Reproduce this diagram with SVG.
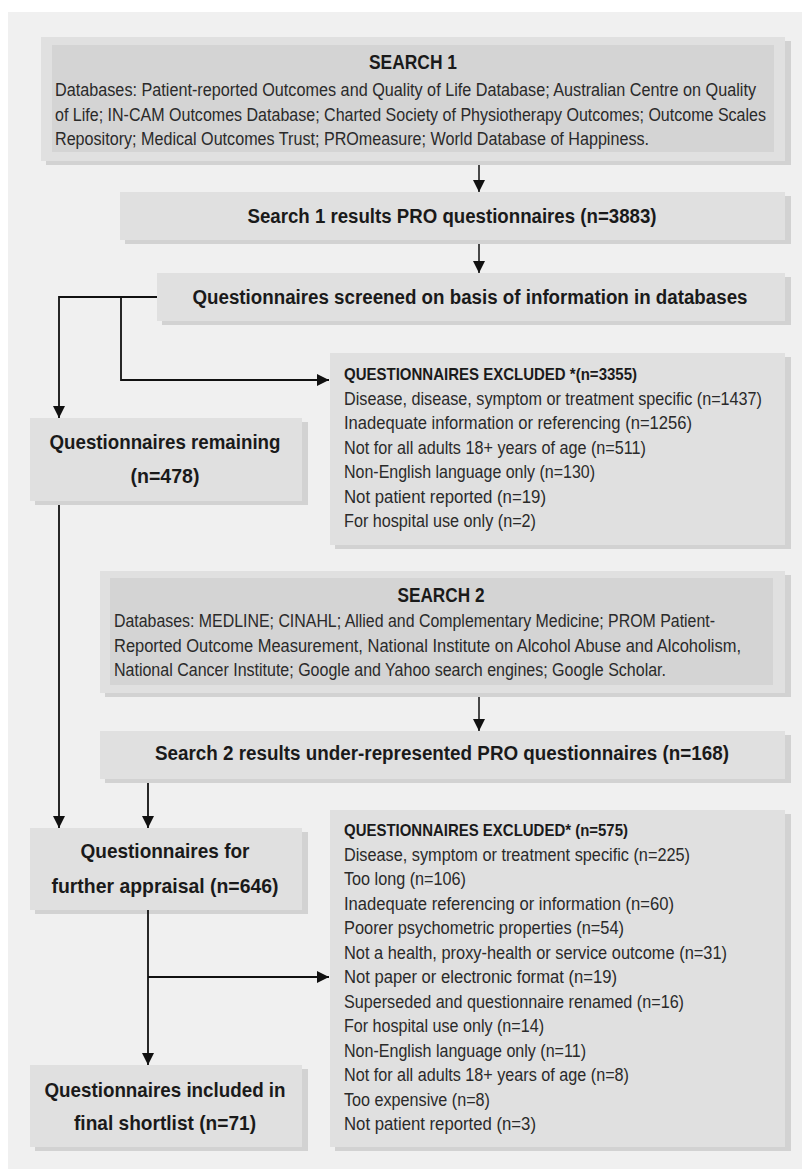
<svg xmlns="http://www.w3.org/2000/svg" width="802" height="1169" viewBox="0 0 802 1169">
<defs>
<style>
.bg{fill:#ffffff}
.panel{fill:#f0f0f0}
.box{fill:#e0e0e0}
.inner{fill:#d4d4d4}
.sh{fill:#d2d2d2}
text{font-family:"Liberation Sans Narrow","Liberation Sans",Arial,sans-serif;fill:#2a2a2a}
.t{font-size:17.5px}
.h{font-size:17px;font-weight:bold;fill:#1a1a1a}
.b{font-size:20px;font-weight:bold;fill:#1a1a1a}
.bl{font-size:21px;font-weight:bold;fill:#1a1a1a}
.c{text-anchor:middle}
.ln{fill:none;stroke:#111;stroke-width:1.8}
.lt{fill:none;stroke:#111;stroke-width:1.5}
</style>
<marker id="ah" markerUnits="userSpaceOnUse" markerWidth="12" markerHeight="12" viewBox="0 0 12 12" refX="12" refY="6" orient="auto">
<path d="M0,0 L12,6 L0,12 z" fill="#111"/>
</marker>
</defs>
<rect class="bg" x="0" y="0" width="802" height="1169"/>
<rect class="panel" x="8" y="12" width="794" height="1157"/>

<g id="search1">
<rect class="sh" x="46" y="41" width="745" height="124"/>
<rect class="box" x="41" y="37" width="744" height="124"/>
<rect class="inner" x="52" y="45" width="722" height="107"/>
<text class="b c" x="413" y="69" textLength="88" lengthAdjust="spacingAndGlyphs">SEARCH 1</text>
<text class="t" x="55" y="96" textLength="701" lengthAdjust="spacingAndGlyphs">Databases: Patient-reported Outcomes and Quality of Life Database; Australian Centre on Quality</text>
<text class="t" x="55" y="120.5" textLength="711" lengthAdjust="spacingAndGlyphs">of Life; IN-CAM Outcomes Database; Charted Society of Physiotherapy Outcomes; Outcome Scales</text>
<text class="t" x="55" y="145" textLength="594" lengthAdjust="spacingAndGlyphs">Repository; Medical Outcomes Trust; PROmeasure; World Database of Happiness.</text>
</g>

<g id="results1">
<rect class="sh" x="125" y="196" width="666" height="48"/>
<rect class="box" x="120" y="192" width="665" height="48"/>
<text class="b c" x="452" y="223" textLength="409" lengthAdjust="spacingAndGlyphs">Search 1 results PRO questionnaires (n=3883)</text>
</g>

<g id="screened">
<rect class="sh" x="162" y="277" width="629" height="48"/>
<rect class="box" x="157" y="273" width="628" height="48"/>
<text class="b c" x="470" y="304" textLength="555" lengthAdjust="spacingAndGlyphs">Questionnaires screened on basis of information in databases</text>
</g>

<g id="excluded1">
<rect class="sh" x="335" y="357" width="456" height="192"/>
<rect class="box" x="330" y="353" width="455" height="192"/>
<text class="h" x="344" y="380" textLength="293" lengthAdjust="spacingAndGlyphs">QUESTIONNAIRES EXCLUDED *(n=3355)</text>
<text class="t" x="344" y="404.5" textLength="418" lengthAdjust="spacingAndGlyphs">Disease, disease, symptom or treatment specific (n=1437)</text>
<text class="t" x="344" y="429" textLength="348" lengthAdjust="spacingAndGlyphs">Inadequate information or referencing (n=1256)</text>
<text class="t" x="344" y="453.5" textLength="302" lengthAdjust="spacingAndGlyphs">Not for all adults 18+ years of age (n=511)</text>
<text class="t" x="344" y="478" textLength="251" lengthAdjust="spacingAndGlyphs">Non-English language only (n=130)</text>
<text class="t" x="344" y="502.5" textLength="202" lengthAdjust="spacingAndGlyphs">Not patient reported (n=19)</text>
<text class="t" x="344" y="527" textLength="192" lengthAdjust="spacingAndGlyphs">For hospital use only (n=2)</text>
</g>

<g id="remaining">
<rect class="sh" x="35" y="422" width="273" height="83"/>
<rect class="box" x="30" y="418" width="272" height="83"/>
<text class="bl c" x="165" y="449" textLength="231" lengthAdjust="spacingAndGlyphs">Questionnaires remaining</text>
<text class="bl c" x="165" y="483" textLength="69" lengthAdjust="spacingAndGlyphs">(n=478)</text>
</g>

<g id="search2">
<rect class="sh" x="105" y="575" width="686" height="122"/>
<rect class="box" x="100" y="571" width="685" height="122"/>
<rect class="inner" x="110" y="578" width="663" height="107"/>
<text class="b c" x="441" y="602" textLength="87" lengthAdjust="spacingAndGlyphs">SEARCH 2</text>
<text class="t" x="114" y="627" textLength="601" lengthAdjust="spacingAndGlyphs">Databases: MEDLINE; CINAHL; Allied and Complementary Medicine; PROM Patient-</text>
<text class="t" x="114" y="651.5" textLength="627" lengthAdjust="spacingAndGlyphs">Reported Outcome Measurement, National Institute on Alcohol Abuse and Alcoholism,</text>
<text class="t" x="114" y="676" textLength="552" lengthAdjust="spacingAndGlyphs">National Cancer Institute; Google and Yahoo search engines; Google Scholar.</text>
</g>

<g id="results2">
<rect class="sh" x="105" y="735" width="686" height="48"/>
<rect class="box" x="100" y="731" width="685" height="48"/>
<text class="b c" x="442" y="760" textLength="574" lengthAdjust="spacingAndGlyphs">Search 2 results under-represented PRO questionnaires (n=168)</text>
</g>

<g id="further">
<rect class="sh" x="35" y="832" width="273" height="82"/>
<rect class="box" x="30" y="828" width="272" height="82"/>
<text class="bl c" x="165" y="858" textLength="169" lengthAdjust="spacingAndGlyphs">Questionnaires for</text>
<text class="bl c" x="165" y="893" textLength="227" lengthAdjust="spacingAndGlyphs">further appraisal (n=646)</text>
</g>

<g id="excluded2">
<rect class="sh" x="335" y="814" width="456" height="337"/>
<rect class="box" x="330" y="810" width="455" height="337"/>
<text class="h" x="344" y="836" textLength="284" lengthAdjust="spacingAndGlyphs">QUESTIONNAIRES EXCLUDED* (n=575)</text>
<text class="t" x="344" y="860.5" textLength="346" lengthAdjust="spacingAndGlyphs">Disease, symptom or treatment specific (n=225)</text>
<text class="t" x="344" y="885" textLength="122" lengthAdjust="spacingAndGlyphs">Too long (n=106)</text>
<text class="t" x="344" y="909.5" textLength="330" lengthAdjust="spacingAndGlyphs">Inadequate referencing or information (n=60)</text>
<text class="t" x="344" y="934" textLength="280" lengthAdjust="spacingAndGlyphs">Poorer psychometric properties (n=54)</text>
<text class="t" x="344" y="958.5" textLength="383" lengthAdjust="spacingAndGlyphs">Not a health, proxy-health or service outcome (n=31)</text>
<text class="t" x="344" y="983" textLength="273" lengthAdjust="spacingAndGlyphs">Not paper or electronic format (n=19)</text>
<text class="t" x="344" y="1007.5" textLength="340" lengthAdjust="spacingAndGlyphs">Superseded and questionnaire renamed (n=16)</text>
<text class="t" x="344" y="1032" textLength="200" lengthAdjust="spacingAndGlyphs">For hospital use only (n=14)</text>
<text class="t" x="344" y="1056.5" textLength="242" lengthAdjust="spacingAndGlyphs">Non-English language only (n=11)</text>
<text class="t" x="344" y="1081" textLength="285" lengthAdjust="spacingAndGlyphs">Not for all adults 18+ years of age (n=8)</text>
<text class="t" x="344" y="1105.5" textLength="146" lengthAdjust="spacingAndGlyphs">Too expensive (n=8)</text>
<text class="t" x="344" y="1130" textLength="192" lengthAdjust="spacingAndGlyphs">Not patient reported (n=3)</text>
</g>

<g id="included">
<rect class="sh" x="35" y="1069" width="273" height="82"/>
<rect class="box" x="30" y="1065" width="272" height="82"/>
<text class="bl c" x="165" y="1097" textLength="241" lengthAdjust="spacingAndGlyphs">Questionnaires included in</text>
<text class="bl c" x="165" y="1130" textLength="182" lengthAdjust="spacingAndGlyphs">final shortlist (n=71)</text>
</g>

<g id="connectors">
<path class="lt" d="M479,165 V192" marker-end="url(#ah)"/>
<path class="lt" d="M479,244 V273" marker-end="url(#ah)"/>
<path class="ln" d="M157,297 H59 V418" marker-end="url(#ah)"/>
<path class="ln" d="M121,297 V380 H329" marker-end="url(#ah)"/>
<path class="lt" d="M479,697 V731" marker-end="url(#ah)"/>
<path class="ln" d="M59,505 V828" marker-end="url(#ah)"/>
<path class="ln" d="M148,783 V828" marker-end="url(#ah)"/>
<path class="ln" d="M148,910 V1065" marker-end="url(#ah)"/>
<path class="ln" d="M148,977 H329" marker-end="url(#ah)"/>
</g>
</svg>
